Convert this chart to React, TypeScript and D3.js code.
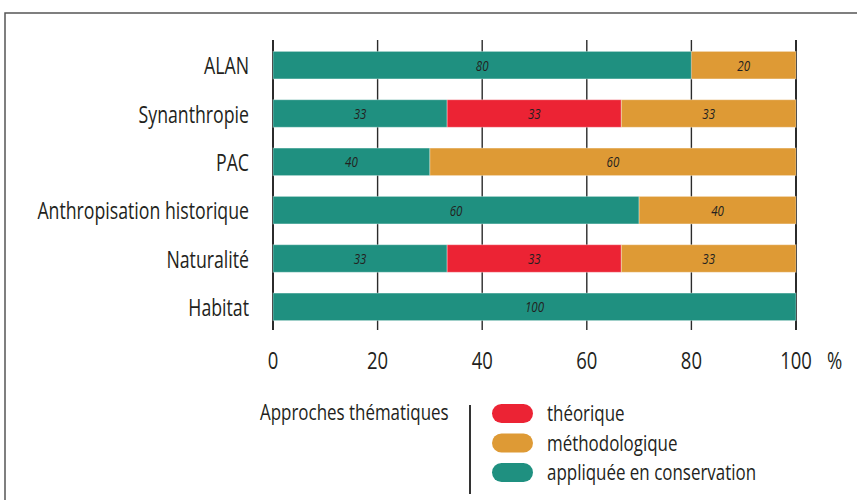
import React from "react";
import * as d3 from "d3";

const categories = ["ALAN", "Synanthropie", "PAC", "Anthropisation historique", "Naturalité", "Habitat"];
const seriesKeys = ["appliquee", "theorique", "methodologique"];
const seriesNames = ["appliquée en conservation", "théorique", "méthodologique"];
// segment widths as drawn (percent)
const appliquee = [80, 33.3, 30, 70, 33.3, 100];
const theorique = [0, 33.3, 0, 0, 33.3, 0];
const methodologique = [20, 33.4, 70, 30, 33.4, 0];
// labels printed on the segments
const appliqueeLabels = ["80", "33", "40", "60", "33", "100"];
const theoriqueLabels = ["", "33", "", "", "33", ""];
const methodologiqueLabels = ["20", "33", "60", "40", "33", ""];
const xTicks = [0, 20, 40, 60, 80, 100];
const legendTitle = "Approches thématiques";
const legendOrder = ["theorique", "methodologique", "appliquee"];

const colors: Record<string, string> = {
  appliquee: "#1f9080",
  theorique: "#ec2334",
  methodologique: "#de9a35",
};

const FONT = "'Open Sans', 'Noto Sans', sans-serif";
const TEXT = "#231f20";
const SX = 0.77;

function CText(props: { x: number; y: number; size: number; anchor?: string; italic?: boolean; children: React.ReactNode }) {
  const { x, y, size, anchor = "start", italic, children } = props;
  return (
    <text
      transform={`translate(${x},${y}) scale(${SX},1)`}
      textAnchor={anchor}
      fontFamily={FONT}
      fontSize={size}
      fontStyle={italic ? "italic" : "normal"}
      fill={TEXT}
    >
      {children}
    </text>
  );
}

export default function App() {
  const W = 857, H = 500;
  const x = d3.scaleLinear().domain([0, 100]).range([273, 796]);
  const y = d3.scaleBand().domain(categories).range([41, 331]).paddingInner(0.43).paddingOuter(0.215);

  const rows = categories.map((c, i) => ({
    cat: c,
    appliquee: appliquee[i],
    theorique: theorique[i],
    methodologique: methodologique[i],
  }));
  const stack = d3.stack<any>().keys(seriesKeys)(rows);
  const labels: Record<string, string[]> = {
    appliquee: appliqueeLabels,
    theorique: theoriqueLabels,
    methodologique: methodologiqueLabels,
  };
  const nameOf = (k: string) => seriesNames[seriesKeys.indexOf(k)];
  const cy = (c: string) => y(c)! + y.bandwidth() / 2;

  return (
    <svg width={W} height={H} style={{ position: "absolute", left: 0, top: 0, background: "#fff" }}>
      {/* frame */}
      <path d={`M5,${H} L5,13 L${W},13`} fill="none" stroke="#555" strokeWidth={1.5} />
      {/* grid lines */}
      {xTicks.map((t) => (
        <line key={t} x1={x(t)} x2={x(t)} y1={40} y2={330} stroke="#2b2b2b" strokeWidth={t === 0 || t === 100 ? 2 : 1.4} />
      ))}
      {/* bars */}
      {stack.map((s) => (
        <g key={s.key}>
          {s.map((d: any, i: number) =>
            d[1] - d[0] > 0 ? (
              <g key={i}>
                <rect
                  x={x(d[0])}
                  y={y(categories[i])!}
                  width={x(d[1]) - x(d[0])}
                  height={y.bandwidth()}
                  fill={colors[s.key]}
                  stroke="rgba(255,255,255,0.35)"
                  strokeWidth={1}
                />
                {labels[s.key][i] && (
                  <CText x={(x(d[0]) + x(d[1])) / 2} y={cy(categories[i]) + 5.5} size={15} anchor="middle" italic>
                    {labels[s.key][i]}
                  </CText>
                )}
              </g>
            ) : null
          )}
        </g>
      ))}
      {/* category labels */}
      {categories.map((c) => (
        <CText key={c} x={249} y={cy(c) + 9} size={23} anchor="end">
          {c}
        </CText>
      ))}
      {/* x tick labels */}
      {xTicks.map((t) => (
        <CText key={t} x={x(t)} y={369} size={24} anchor="middle">
          {t}
        </CText>
      ))}
      <CText x={827} y={369} size={24}>%</CText>
      {/* legend */}
      <CText x={260} y={420} size={22}>{legendTitle}</CText>
      <line x1={470} x2={470} y1={405} y2={494} stroke="#333" strokeWidth={2} />
      {legendOrder.map((k, i) => (
        <g key={k}>
          <rect x={492} y={404 + i * 29.5} width={41} height={19} rx={9.5} fill={colors[k]} />
          <CText x={547} y={421 + i * 29.5} size={22}>{nameOf(k)}</CText>
        </g>
      ))}
    </svg>
  );
}
